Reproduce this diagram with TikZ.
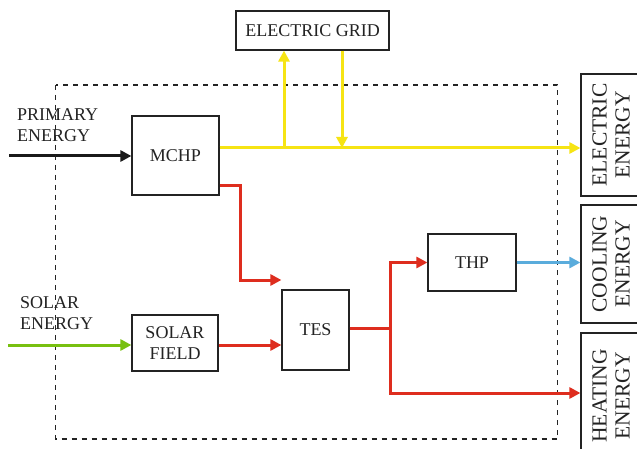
\documentclass[tikz,border=0pt]{standalone}
\usepackage{fontspec}
\setmainfont{Liberation Serif}
\usepackage{graphicx}
\usetikzlibrary{arrows.meta,calc}
\definecolor{yel}{RGB}{246,228,20}
\definecolor{redf}{RGB}{222,45,30}
\definecolor{grn}{RGB}{120,192,16}
\definecolor{blu}{RGB}{90,172,220}
\definecolor{txt}{RGB}{35,35,35}
\begin{document}
\begin{tikzpicture}[x=1pt,y=-1pt,
  box/.style={draw=txt,line width=1.2pt,fill=white,text=txt,inner sep=0pt,align=center,font=\fontsize{18}{21}\selectfont},
  outbox/.style={draw=txt,line width=1.2pt,fill=white,text=txt,inner sep=0pt,minimum width=64pt,font=\fontsize{21.5}{26}\selectfont},
  flow/.style={line width=3pt,-{Triangle[length=11pt,width=11pt]}},
  plain/.style={line width=3pt},
  lbl/.style={text=txt,align=left,inner sep=0pt,font=\fontsize{18}{21}\selectfont}]
\useasboundingbox (0,0) rectangle (637,449);
\fill[white] (0,0) rectangle (637,449);
% dashed boundary
\draw[txt,line width=1.2pt,dash pattern=on 5pt off 5pt] (55.5,85) rectangle (557.5,439);
% boxes
\node[box,minimum width=153pt,minimum height=39pt] (grid) at (312.5,30.5) {ELECTRIC GRID};
\node[box,minimum width=87pt,minimum height=79pt] (mchp) at (175.5,155.5) {MCHP};
\node[box,minimum width=86pt,minimum height=56pt] (sf) at (175,343) {SOLAR\\FIELD};
\node[box,minimum width=67pt,minimum height=80pt] (tes) at (315.5,330) {TES};
\node[box,minimum width=88pt,minimum height=57pt] (thp) at (472,262.5) {THP};
\node[outbox,minimum height=122pt] (elec) at (613,135) {\rotatebox{90}{\begin{tabular}{@{}c@{}}ELECTRIC\\[-3pt]ENERGY\end{tabular}}};
\node[outbox,minimum height=118pt] (cool) at (613,264) {\rotatebox{90}{\begin{tabular}{@{}c@{}}COOLING\\[-3pt]ENERGY\end{tabular}}};
\node[outbox,minimum height=126pt] (heat) at (613,396) {\rotatebox{90}{\begin{tabular}{@{}c@{}}HEATING\\[-3pt]ENERGY\end{tabular}}};
% labels
\node[lbl,anchor=west] (plab) at (17,125) {PRIMARY\\ENERGY};
\node[lbl,anchor=west] (slab) at (20,313) {SOLAR\\ENERGY};
% coordinates
\coordinate (pin) at (9,156);
\coordinate (sin) at (8,345);
\coordinate (j1) at (284,148);
\coordinate (j2) at (342,148);
\coordinate (r1) at (240,186);
\coordinate (r2) at (240,280);
\coordinate (jt) at (390,328);
\coordinate (jh) at (390,393);
% inputs
\draw[flow,black!90] (pin) -- (mchp.west |- pin);
\draw[flow,grn] (sin) -- (sf.west |- sin);
% electricity
\draw[flow,yel] (mchp.east |- j1) -- (elec.west |- j1);
\draw[flow,yel] (j1) -- (grid.south -| j1);
\draw[flow,yel] (grid.south -| j2) -- (j2);
% heat
\draw[flow,redf,line join=miter] (mchp.east |- r1) -- (r1) -- (r2) -- (tes.west |- r2);
\draw[flow,redf] (sf.east |- sin) -- (tes.west |- sin);
\draw[plain,redf] (tes.east |- jt) -- (jt);
\draw[flow,redf,line join=miter] (jt) |- (thp.west);
\draw[flow,redf,line join=miter] (jt) |- (heat.west |- jh);
% cooling
\draw[flow,blu] (thp.east) -- (cool.west |- thp.east);
\end{tikzpicture}
\end{document}
